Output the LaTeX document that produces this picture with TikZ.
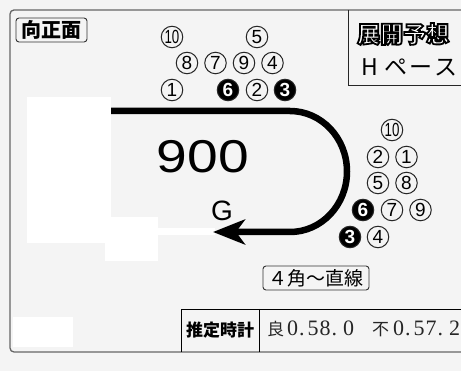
\documentclass[tikz,border=0pt]{standalone}
\usepackage{fontspec}
\setmainfont{Liberation Sans}
\newfontfamily\jp{Noto Sans CJK JP}
\newfontfamily\srf{Liberation Serif}
\usetikzlibrary{arrows.meta}
\definecolor{bg}{HTML}{F4F4F4}
\newcommand{\fs}[1]{\fontsize{#1}{#1}\selectfont}
\newcommand{\outl}[1]{\special{pdf:literal direct 2 Tr 1.8 w 0 0 0 RG}#1\special{pdf:literal direct 0 Tr}}

\begin{document}
\begin{tikzpicture}[x=1pt, y=-1pt]
		\tikzset{hn/.style={circle, draw=black!85, line width=1pt, minimum size=21.5pt, inner sep=0pt, font=\fs{19}},
			hnb/.style={hn, fill=black, text=white, font=\fs{19}\bfseries},
			tag/.style={draw=black!80, rounded corners=3pt, line width=0.9pt, inner sep=0pt, minimum height=24pt, font=\jp\fs{19}},
			track/.style={line width=6.5pt, -{Stealth[length=32pt, width=25pt, inset=9pt]}}};

		\useasboundingbox (0,0) rectangle (461,371);
		\clip (0,0) rectangle (461,371);
		\fill[bg] (0,0) rectangle (461,371);

		\fill[white] (27,97) rectangle (111,243);
		\fill[white] (105,217) rectangle (158,261);
		\fill[white] (157,228) rectangle (215,235);
		\fill[white] (13,317) rectangle (73,347);

		\draw[black!60, line width=1.3pt, rounded corners=4pt] (10,10) rectangle (490,352);

		\node[tag, minimum width=71pt, font=\jp\fs{20}\bfseries] (front) at (51.5,30) {向正面};
		\node[tag, minimum width=106pt] (corner) at (316,278) {４角～直線};

		\draw[black!85, line width=0.9pt] (348,10) -- (348,85) -- (470,85);
		\node[anchor=west, inner sep=0pt, font=\jp\fs{23}\bfseries, text=white] (title) at (357,34) {\outl{展開予想}};
		\node[anchor=west, inner sep=0pt, font=\jp\fs{23}] (pace) at (361,67) {H\hspace{7pt}ペ\hspace{2pt}ー\hspace{2pt}ス};

		\node[hn] (t10) at (172,37) {\scalebox{0.7}[1]{10}};
		\node[hn] (t5) at (257,37) {5};
		\node[hn] (t8) at (187,63) {8};
		\node[hn] (t7) at (215.5,63) {7};
		\node[hn] (t9) at (244,63) {9};
		\node[hn] (t4) at (272.5,63) {4};
		\node[hn] (t1) at (172,90) {1};
		\node[hnb] (t6) at (228,90) {6};
		\node[hn] (t2) at (257,90) {2};
		\node[hnb] (t3) at (285,90) {3};

		\node[hn] (r10) at (392,130) {\scalebox{0.7}[1]{10}};
		\node[hn] (r2) at (378,157) {2};
		\node[hn] (r1) at (406.5,157) {1};
		\node[hn] (r5) at (378,183) {5};
		\node[hn] (r8) at (406.5,183) {8};
		\node[hnb] (r6) at (363,210) {6};
		\node[hn] (r7) at (392,210) {7};
		\node[hn] (r9) at (420.5,210) {9};
		\node[hnb] (r3) at (350,237) {3};
		\node[hn] (r4) at (378,237) {4};

		\coordinate (start) at (111,111);
		\coordinate (bend) at (290,111);
		\coordinate (goal) at (213,232);
		\draw[track] (start) -- (bend) arc[start angle=90, end angle=-90, x radius=57pt, y radius=60.5pt] -- (goal);

		\node[font=\fs{46}] (dist) at (203,157) {\scalebox{1.2}[1]{900}};
		\node[font=\fs{28}] (g) at (222,211) {G};

		\draw[black, line width=0.9pt] (181,352) -- (181,309) -- (470,309);
		\draw[black, line width=0.9pt] (259,309) -- (259,352);
		\node[font=\jp\fs{17}\bfseries] (est) at (220,330) {推定時計};
		\node[anchor=west, inner sep=0pt, text=black!85, font=\srf\fs{22}] (time) at (267,329) {{\jp\fs{17}良}\hspace{3pt}0\hspace{1pt}.\hspace{3pt}5\hspace{1pt}8\hspace{1pt}.\hspace{6pt}0\hspace{18pt}{\jp\fs{17}不}\hspace{4pt}0\hspace{1pt}.\hspace{3pt}5\hspace{1pt}7\hspace{1pt}.\hspace{6pt}2};

	\end{tikzpicture}
\end{document}
